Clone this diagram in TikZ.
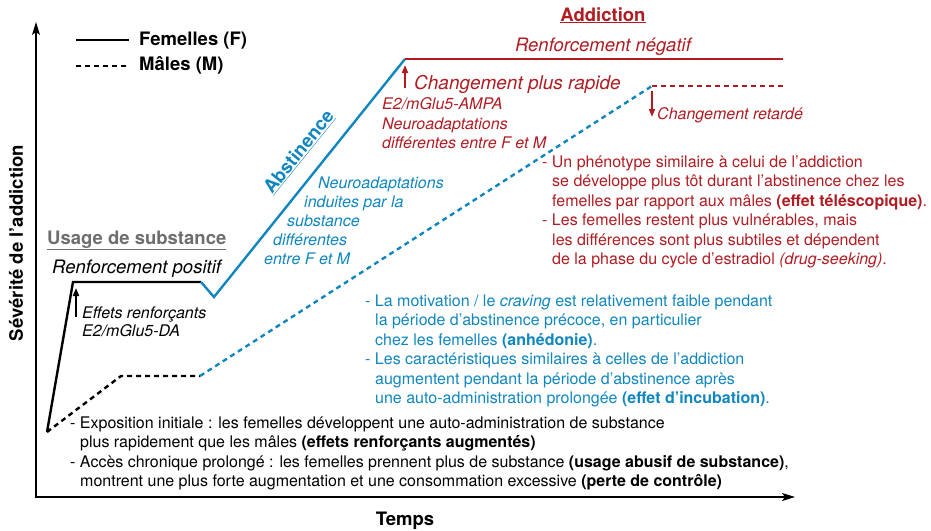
\documentclass[tikz,border=0pt]{standalone}
\usepackage{fontspec}
\setmainfont{TeX Gyre Heros}
\usetikzlibrary{arrows.meta}
\definecolor{abstblue}{RGB}{16,134,191}
\definecolor{addred}{RGB}{176,28,34}
\definecolor{usegray}{RGB}{110,110,110}
\newcommand{\indnt}{\hspace*{10pt}}
\newcommand{\fs}[2]{\fontsize{#1}{#2}\selectfont}
\begin{document}
\begin{tikzpicture}[>={Stealth[length=13pt,width=8pt,inset=3pt]},x=1pt,y=-1pt,
		lbl/.style={inner sep=0pt,font=\fs{16}{19.5}},
		ttl/.style={inner sep=0pt,font=\fs{18.5}{22}\bfseries},
		fem/.style={line width=2.4pt},
		mal/.style={line width=2.4pt,dash pattern=on 5pt off 4pt},
		ptr/.style={-{Triangle[length=8pt,width=6pt]},line width=1.8pt}]
		\useasboundingbox (0,0) rectangle (931,530);
		\coordinate (o) at (36,497);
		\coordinate (ytop) at (36,22);
		\coordinate (xend) at (795,497);
		\draw[<->,line width=1.3pt] (ytop) -- (o) -- (xend);
		\node[ttl,anchor=base] (temps) at (405,525) {Temps};
		\node[ttl,rotate=90,anchor=center] (sev) at (16,243) {Sévérité de l’addiction};
		\coordinate (lf0) at (76,40);
		\coordinate (lf1) at (129,40);
		\coordinate (lm0) at (76,66);
		\coordinate (lm1) at (129,66);
		\draw[fem] (lf0) -- (lf1);
		\draw[mal,line width=2pt] (lm0) -- (lm1);
		\node[ttl,anchor=base west] (lgf) at (139,45) {Femelles (F)};
		\node[ttl,anchor=base west] (lgm) at (139,70) {Mâles (M)};
		\coordinate (s0) at (47,432);
		\coordinate (f1) at (73,282);
		\coordinate (f2) at (201,282);
		\coordinate (f3) at (214,297);
		\coordinate (f4) at (405,59);
		\coordinate (f5) at (783,59);
		\coordinate (m1) at (121,376);
		\coordinate (m2) at (200,376);
		\coordinate (m3) at (652,86);
		\coordinate (m4) at (783,86);
		\draw[fem] (s0) -- (f1) -- (f2);
		\draw[fem,abstblue] (f2) -- (f3) -- (f4);
		\draw[fem,addred] (f4) -- (f5);
		\draw[mal] (s0) -- (m1) -- (m2);
		\draw[mal,abstblue] (m2) -- (m3);
		\draw[mal,addred] (m3) -- (m4);
		\coordinate (pa0) at (76,317);
		\coordinate (pa1) at (76,288);
		\coordinate (pr0) at (405,88);
		\coordinate (pr1) at (405,65);
		\coordinate (pd0) at (652,91);
		\coordinate (pd1) at (652,117);
		\draw[ptr] (pa0) -- (pa1);
		\draw[ptr,addred] (pr0) -- (pr1);
		\draw[ptr,addred] (pd0) -- (pd1);
		\node[ttl,usegray,anchor=base west] (usage) at (47,244) {\underline{Usage de substance}};
		\node[lbl,font=\fs{18.5}{22}\itshape,anchor=base west] (rpos) at (52,273) {Renforcement positif};
		\node[lbl,font=\fs{16}{18.5}\itshape,anchor=north west,align=left] (eff) at (82,306.5) {Effets renforçants\\E2/mGlu5-DA};
		\node[ttl,abstblue,rotate=51,anchor=center] (abst) at (299,152) {\underline{Abstinence}};
		\node[lbl,abstblue,font=\fs{16}{19}\itshape,anchor=north west,align=left] (neuro) at (264,176.5) {\hspace*{54pt}Neuroadaptations\\\hspace*{40pt}induites par la\\\hspace*{23pt}substance\\\hspace*{9pt}différentes\\entre F et M};
		\node[ttl,addred,anchor=base] (addi) at (603,21) {\underline{Addiction}};
		\node[lbl,addred,font=\fs{18.5}{22}\itshape,anchor=base] (rneg) at (603,51) {Renforcement négatif};
		\node[lbl,addred,font=\fs{19}{22}\itshape,anchor=base west] (chr) at (414,89) {Changement plus rapide};
		\node[lbl,addred,font=\fs{16}{19.5}\itshape,anchor=north west,align=left] (adapt) at (382,97.5) {E2/mGlu5-AMPA\\Neuroadaptations\\différentes entre F et M};
		\node[lbl,addred,font=\fs{16}{19.5}\itshape,anchor=base west] (chd) at (657,119) {Changement retardé};
		\node[lbl,addred,anchor=north west,align=left] (telesc) at (542,155.5) {- Un phénotype similaire à celui de l’addiction\\\indnt se développe plus tôt durant l’abstinence chez les\\\indnt femelles par rapport aux mâles \textbf{(effet téléscopique)}.\\- Les femelles restent plus vulnérables, mais\\\indnt les différences sont plus subtiles et dépendent\\\indnt de la phase du cycle d’estradiol \textit{(drug-seeking)}.};
		\node[lbl,abstblue,anchor=north west,align=left] (incub) at (365,294.5) {- La motivation / le \textit{craving} est relativement faible pendant\\\indnt la période d’abstinence précoce, en particulier\\\indnt chez les femelles \textbf{(anhédonie)}.\\- Les caractéristiques similaires à celles de l’addiction\\\indnt augmentent pendant la période d'abstinence après\\\indnt une auto-administration prolongée \textbf{(effet d’incubation)}.};
		\node[lbl,anchor=north west,align=left] (expo) at (70,416.5) {- Exposition initiale : les femelles développent une auto-administration de substance\\\indnt plus rapidement que les mâles \textbf{(effets renforçants augmentés)}\\- Accès chronique prolongé : les femelles prennent plus de substance \textbf{(usage abusif de substance)},\\\indnt montrent une plus forte augmentation et une consommation excessive \textbf{(perte de contrôle)}};
\end{tikzpicture}
\end{document}
